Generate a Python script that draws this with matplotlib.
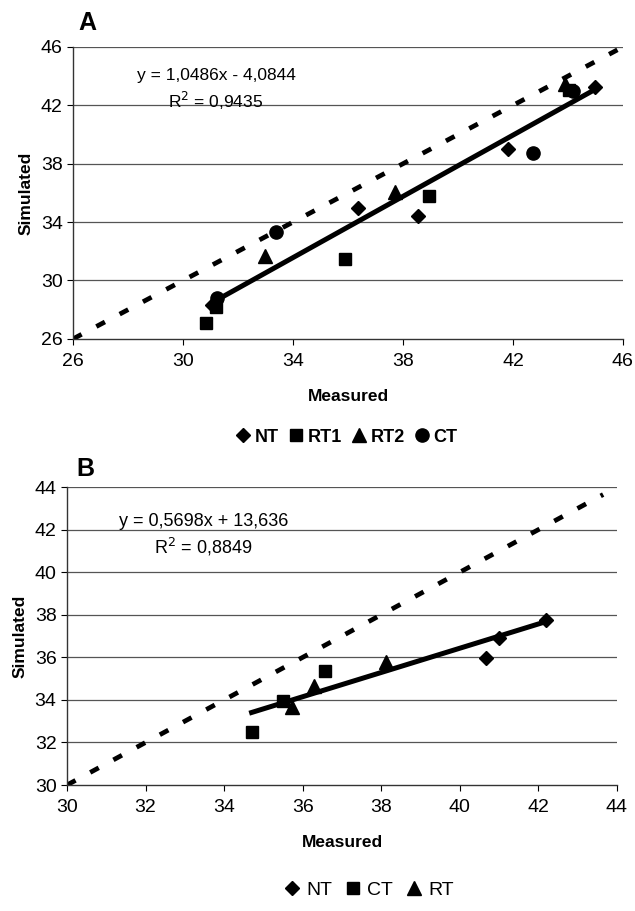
import numpy as np
import matplotlib
matplotlib.use("Agg")
import matplotlib.pyplot as plt

plt.rcParams['font.family'] = ['Liberation Sans', 'DejaVu Sans']
plt.rcParams['lines.scale_dashes'] = False

# --- Panel A data ---
a_nt_x = [31.05, 36.37, 38.56, 41.81, 45.0]
a_nt_y = [28.3, 35.0, 34.42, 39.0, 43.25]
a_rt1_x = [30.84, 31.2, 35.9, 38.96, 44.05]
a_rt1_y = [27.12, 28.2, 31.45, 35.8, 43.08]
a_rt2_x = [33.0, 37.7, 43.9]
a_rt2_y = [31.7, 36.05, 43.45]
a_ct_x = [31.25, 33.4, 42.74, 44.2]
a_ct_y = [28.8, 33.35, 38.75, 43.0]
a_slope, a_icpt = 1.0486, -4.0844
a_fit_range = [31.25, 45.0]
a_one_to_one = [26, 45.8]
a_ticks = [26, 30, 34, 38, 42, 46]

# --- Panel B data ---
b_nt_x = [40.66, 41.0, 42.2]
b_nt_y = [35.98, 36.9, 37.75]
b_ct_x = [34.7, 35.5, 36.56]
b_ct_y = [32.5, 33.95, 35.35]
b_rt_x = [35.74, 36.3, 38.12]
b_rt_y = [33.65, 34.65, 35.8]
b_slope, b_icpt = 0.5698, 13.636
b_fit_range = [34.7, 42.2]
b_one_to_one = [30, 43.65]
b_ticks = [30, 32, 34, 36, 38, 40, 42, 44]

fig = plt.figure(figsize=(6.35, 9.11), dpi=100)
axA = fig.add_axes([0.115, 0.628, 0.866, 0.3205])
axB = fig.add_axes([0.1055, 0.1383, 0.866, 0.327])


def style_axis(ax, ticks):
    ax.set_xlim(ticks[0], ticks[-1])
    ax.set_ylim(ticks[0], ticks[-1])
    ax.set_xticks(ticks)
    ax.set_yticks(ticks)
    for s in ['top', 'right']:
        ax.spines[s].set_visible(False)
    for s in ['left', 'bottom']:
        ax.spines[s].set_color('#333333')
        ax.spines[s].set_linewidth(1.0)
    for t in ticks[1:]:
        ax.axhline(t, color='#555555', lw=0.9, zorder=0)
    ax.tick_params(direction='out', length=4, width=0.8, labelsize=14, colors='black')
    ax.tick_params(axis='x', pad=6)
    ax.set_xlabel('Measured', fontsize=12.5, fontweight='bold', labelpad=14)
    ax.set_ylabel('Simulated', fontsize=12.5, fontweight='bold', labelpad=5)


# Panel A
style_axis(axA, a_ticks)
axA.plot(a_one_to_one, a_one_to_one, color='black', lw=3.4, dashes=(7, 12), zorder=2)
fx = np.array(a_fit_range)
axA.plot(fx, a_slope * fx + a_icpt, color='black', lw=3.6, zorder=3)
hA = []
hA.append(axA.plot(a_nt_x, a_nt_y, 'D', color='black', ms=7, ls='none', label='NT', zorder=4)[0])
hA.append(axA.plot(a_rt1_x, a_rt1_y, 's', color='black', ms=9, ls='none', label='RT1', zorder=4)[0])
hA.append(axA.plot(a_rt2_x, a_rt2_y, '^', color='black', ms=9.5, ls='none', label='RT2', zorder=4)[0])
hA.append(axA.plot(a_ct_x, a_ct_y, 'o', color='black', ms=9.5, ls='none', label='CT', zorder=4)[0])
axA.text(0.26, 0.903, 'y = 1,0486x - 4,0844', transform=axA.transAxes,
         ha='center', va='center', fontsize=12.5)
axA.text(0.26, 0.815, 'R$^2$ = 0,9435', transform=axA.transAxes,
         ha='center', va='center', fontsize=12.5)
fig.text(0.137, 0.975, 'A', fontsize=18, fontweight='bold', ha='center', va='center')
fig.legend(handles=hA, loc='center', bbox_to_anchor=(0.545, 0.52), ncol=4, frameon=False,
           handlelength=0.9, handletextpad=0.2, columnspacing=0.5,
           prop={'weight': 'bold', 'size': 13})

# Panel B
style_axis(axB, b_ticks)
axB.plot(b_one_to_one, b_one_to_one, color='black', lw=3.4, dashes=(7, 12), zorder=2)
fx = np.array(b_fit_range)
axB.plot(fx, b_slope * fx + b_icpt, color='black', lw=3.6, zorder=3)
hB = []
hB.append(axB.plot(b_nt_x, b_nt_y, 'D', color='black', ms=7, ls='none', label='NT', zorder=4)[0])
hB.append(axB.plot(b_ct_x, b_ct_y, 's', color='black', ms=9, ls='none', label='CT', zorder=4)[0])
hB.append(axB.plot(b_rt_x, b_rt_y, '^', color='black', ms=9.5, ls='none', label='RT', zorder=4)[0])
axB.text(0.248, 0.886, 'y = 0,5698x + 13,636', transform=axB.transAxes,
         ha='center', va='center', fontsize=13)
axB.text(0.248, 0.80, 'R$^2$ = 0,8849', transform=axB.transAxes,
         ha='center', va='center', fontsize=13)
fig.text(0.134, 0.485, 'B', fontsize=18, fontweight='bold', ha='center', va='center')
fig.legend(handles=hB, loc='center', bbox_to_anchor=(0.58, 0.023), ncol=3, frameon=False,
           handlelength=0.9, handletextpad=0.3, columnspacing=0.6,
           prop={'size': 14})

fig.savefig('out.png', dpi=100)
